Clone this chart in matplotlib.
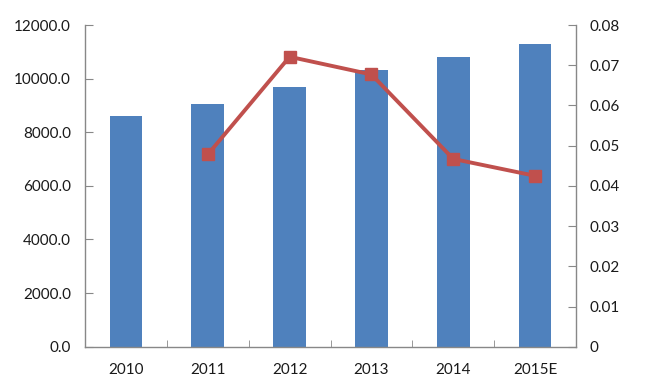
import matplotlib
matplotlib.use("Agg")
import matplotlib.pyplot as plt
from matplotlib.ticker import FuncFormatter, MultipleLocator, FixedLocator
import numpy as np

categories = ["2010", "2011", "2012", "2013", "2014", "2015E"]
bar_values = [8610, 9050, 9670, 10320, 10800, 11290]
line_cats = ["2011", "2012", "2013", "2014", "2015E"]
line_values = [0.0478, 0.0721, 0.0677, 0.0467, 0.0425]

plt.rcParams['font.family'] = ['Lato', 'DejaVu Sans']

fig = plt.figure(figsize=(6.49, 3.89), dpi=100)
ax = fig.add_axes([0.131, 0.1087, 0.7565, 0.827])
x = np.arange(len(categories))
ax.bar(x, bar_values, width=0.4, color="#4F81BD", zorder=2)
ax.set_xlim(-0.5, len(categories) - 0.5)
ax.set_ylim(0, 12000)
ax.yaxis.set_major_locator(MultipleLocator(2000))
ax.yaxis.set_major_formatter(FuncFormatter(lambda v, p: f"{v:.1f}"))
ax.set_xticks(x)
ax.set_xticklabels(categories)
ax.xaxis.set_minor_locator(FixedLocator(np.arange(0.5, len(categories) - 0.5, 1)))

ax2 = ax.twinx()
lx = [categories.index(c) for c in line_cats]
ax2.plot(lx, line_values, color="#C0504D", lw=2.8, marker="s", markersize=8.5,
         markerfacecolor="#C0504D", markeredgecolor="#C0504D", zorder=3)
ax2.set_ylim(0, 0.08)
ax2.yaxis.set_major_locator(MultipleLocator(0.01))
ax2.yaxis.set_major_formatter(FuncFormatter(lambda v, p: "0" if abs(v) < 1e-9 else f"{v:.2f}"))

gray = "#888888"
for a in (ax, ax2):
    a.spines['top'].set_visible(False)
    for s in a.spines.values():
        s.set_color(gray)
        s.set_linewidth(1.0)
ax.spines['right'].set_visible(False)
ax2.spines['left'].set_visible(False)
ax2.spines['bottom'].set_visible(False)

ax.tick_params(axis='y', direction='in', length=6, color=gray, labelsize=11, labelcolor="#1a1a1a", pad=10)
ax.tick_params(axis='x', which='major', length=0, labelsize=11, labelcolor="#1a1a1a", pad=12)
ax.tick_params(axis='x', which='minor', direction='in', length=5, color=gray)
ax2.tick_params(axis='y', direction='in', length=6, color=gray, labelsize=11, labelcolor="#1a1a1a", pad=10)

fig.savefig("out.png", dpi=100)
